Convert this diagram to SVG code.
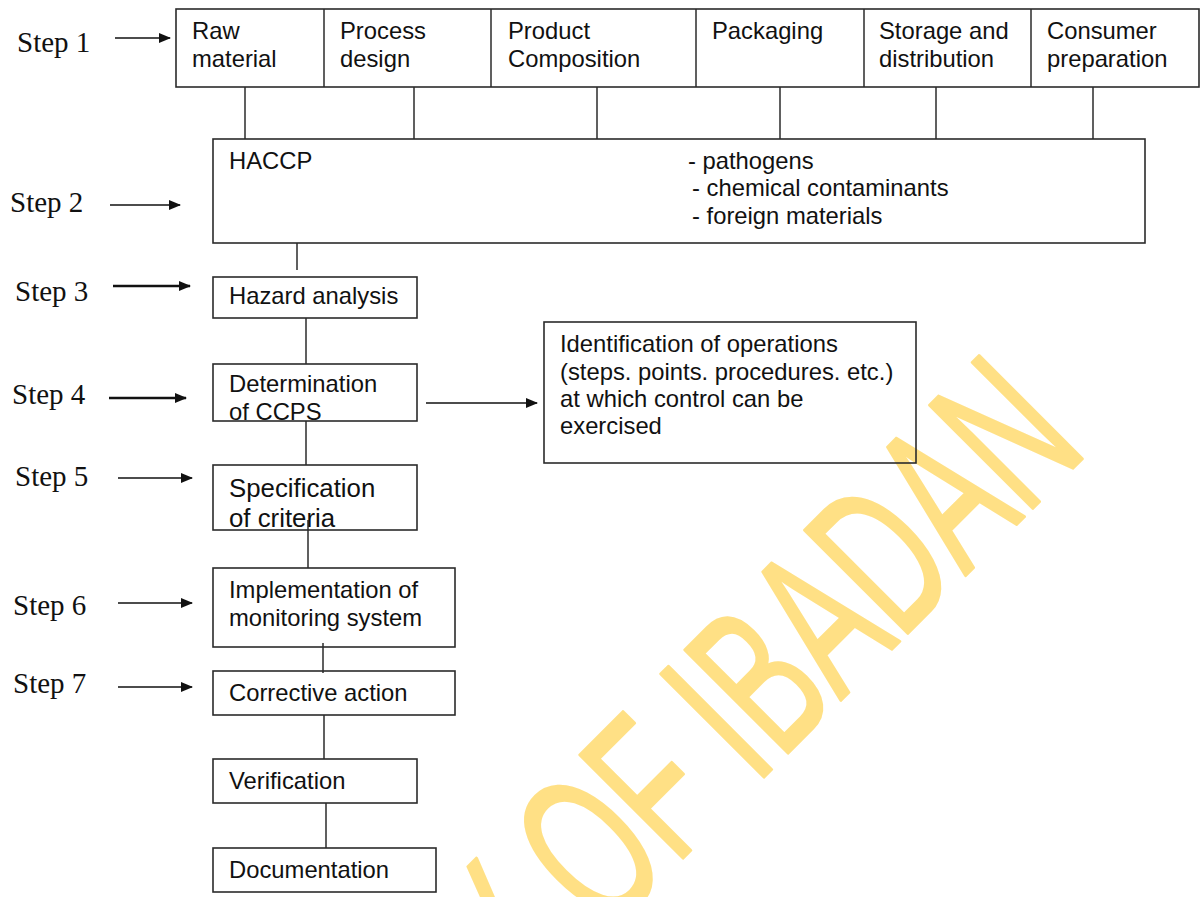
<svg xmlns="http://www.w3.org/2000/svg" width="1202" height="897" viewBox="0 0 1202 897">
<style>
.box{fill:none;stroke:#2b2b2b;stroke-width:1.6}
.ln{stroke:#2b2b2b;stroke-width:1.5;fill:none}
.ar{stroke:#111;stroke-width:1.6;fill:none;marker-end:url(#ah)}
.ar2{stroke:#111;stroke-width:2.4;fill:none;marker-end:url(#ah)}
.t{font-family:"Liberation Sans",Arial,sans-serif;font-size:23.8px;fill:#111}
.s{font-family:"Liberation Serif","Times New Roman",serif;font-size:29px;fill:#111}
.wm{font-family:"Liberation Sans",Arial,sans-serif;font-size:212px;fill:#FFE085;stroke:#FFE085;stroke-width:3;stroke-linejoin:round}
</style>
<defs>
<marker id="ah" markerWidth="12" markerHeight="10" refX="11" refY="5" orient="auto" markerUnits="userSpaceOnUse">
<path d="M0,0 L12,5 L0,10 Z" fill="#111"/>
</marker>
</defs>
<rect width="1202" height="897" fill="#fff"/>
<g id="watermark">
<text class="wm" text-anchor="end" transform="translate(1090,451) rotate(-45) scale(0.6,1)">Y OF IBADAN</text>
</g>
<g id="steps">
<text class="s" x="17" y="52">Step 1</text>
<text class="s" x="10" y="212">Step 2</text>
<text class="s" x="15" y="301">Step 3</text>
<text class="s" x="12" y="404">Step 4</text>
<text class="s" x="15" y="486">Step 5</text>
<text class="s" x="13" y="615">Step 6</text>
<text class="s" x="13" y="693">Step 7</text>
</g>
<g id="connectors">
<line class="ar" x1="115" y1="38" x2="170" y2="38"/>
<line class="ar" x1="110" y1="205" x2="180" y2="205"/>
<line class="ar2" x1="113" y1="286" x2="190" y2="286"/>
<line class="ar2" x1="109" y1="398" x2="186" y2="398"/>
<line class="ar" x1="118" y1="478" x2="192" y2="478"/>
<line class="ar" x1="118" y1="603" x2="192" y2="603"/>
<line class="ar" x1="118" y1="687" x2="192" y2="687"/>
<line class="ln" x1="245" y1="87" x2="245" y2="139"/>
<line class="ln" x1="414" y1="87" x2="414" y2="139"/>
<line class="ln" x1="597" y1="87" x2="597" y2="139"/>
<line class="ln" x1="780" y1="87" x2="780" y2="139"/>
<line class="ln" x1="936" y1="87" x2="936" y2="139"/>
<line class="ln" x1="1093" y1="87" x2="1093" y2="139"/>
<line class="ln" x1="297" y1="243" x2="297" y2="270"/>
<line class="ln" x1="306" y1="318" x2="306" y2="364"/>
<line class="ln" x1="306" y1="421" x2="306" y2="465"/>
<line class="ar" x1="426" y1="403" x2="537" y2="403"/>
<line class="ln" x1="308" y1="520" x2="308" y2="568"/>
<line class="ln" x1="323" y1="643" x2="323" y2="673"/>
<line class="ln" x1="324" y1="715" x2="324" y2="759"/>
<line class="ln" x1="326" y1="803" x2="326" y2="848"/>
</g>
<g id="top-row">
<rect class="box" x="176" y="9" width="1023" height="78"/>
<line class="ln" x1="324" y1="9" x2="324" y2="87"/>
<line class="ln" x1="491" y1="9" x2="491" y2="87"/>
<line class="ln" x1="696" y1="9" x2="696" y2="87"/>
<line class="ln" x1="864" y1="9" x2="864" y2="87"/>
<line class="ln" x1="1031" y1="9" x2="1031" y2="87"/>
<text class="t" x="192" y="39">Raw</text><text class="t" x="192" y="67">material</text>
<text class="t" x="340" y="39">Process</text><text class="t" x="340" y="67">design</text>
<text class="t" x="508" y="39">Product</text><text class="t" x="508" y="67">Composition</text>
<text class="t" x="712" y="39">Packaging</text>
<text class="t" x="879" y="39">Storage and</text><text class="t" x="879" y="67">distribution</text>
<text class="t" x="1047" y="39">Consumer</text><text class="t" x="1047" y="67">preparation</text>
</g>
<g id="haccp">
<rect class="box" x="213" y="139" width="932" height="104"/>
<text class="t" x="229" y="169">HACCP</text>
<text class="t" x="688" y="169">- pathogens</text>
<text class="t" x="692" y="196">- chemical contaminants</text>
<text class="t" x="692" y="224">- foreign materials</text>
</g>
<g id="hazard">
<rect class="box" x="213" y="277" width="204" height="41"/>
<text class="t" x="229" y="304">Hazard analysis</text>
</g>
<g id="ccps">
<rect class="box" x="213" y="364" width="204" height="57"/>
<text class="t" x="229" y="392">Determination</text>
<text class="t" x="229" y="420">of CCPS</text>
</g>
<g id="identification">
<rect class="box" x="544" y="322" width="372" height="141"/>
<text class="t" x="560" y="352">Identification of operations</text>
<text class="t" x="560" y="380">(steps. points. procedures. etc.)</text>
<text class="t" x="560" y="407">at which control can be</text>
<text class="t" x="560" y="434">exercised</text>
</g>
<g id="criteria">
<rect class="box" x="213" y="465" width="204" height="65"/>
<text class="t" x="229" y="497" style="font-size:25.8px">Specification</text>
<text class="t" x="229" y="527" style="font-size:25.8px">of criteria</text>
</g>
<g id="monitoring">
<rect class="box" x="213" y="568" width="242" height="79"/>
<text class="t" x="229" y="598">Implementation of</text>
<text class="t" x="229" y="626">monitoring system</text>
</g>
<g id="corrective">
<rect class="box" x="213" y="671" width="242" height="44"/>
<text class="t" x="229" y="701">Corrective action</text>
</g>
<g id="verification">
<rect class="box" x="213" y="759" width="204" height="44"/>
<text class="t" x="229" y="789">Verification</text>
</g>
<g id="documentation">
<rect class="box" x="213" y="848" width="223" height="44"/>
<text class="t" x="229" y="878">Documentation</text>
</g>
</svg>
